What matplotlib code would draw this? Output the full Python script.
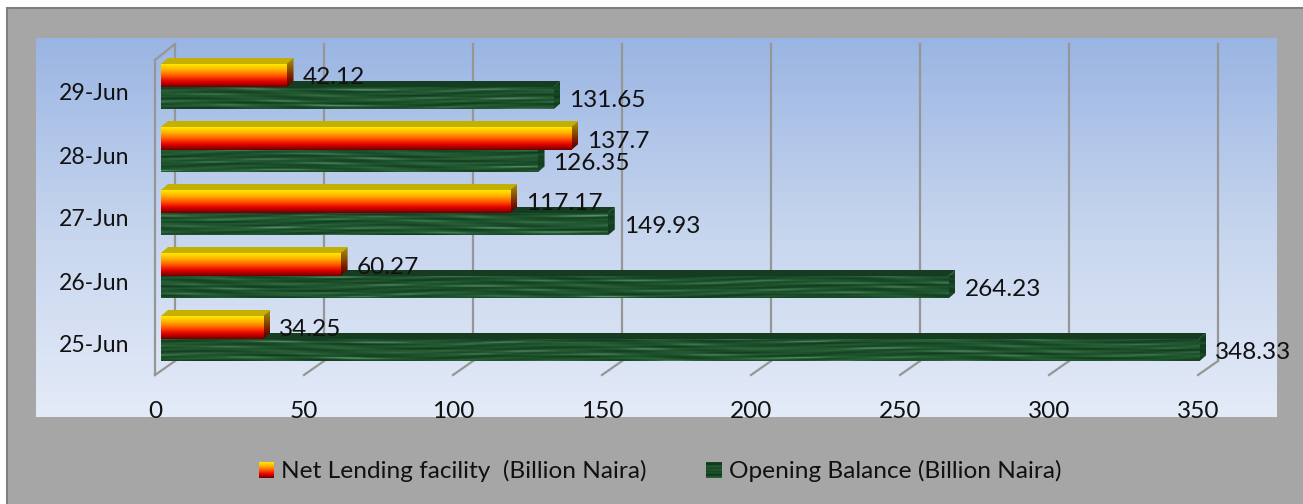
import matplotlib

matplotlib.use("Agg")
import matplotlib.pyplot as plt
import numpy as np
from matplotlib.colors import LinearSegmentedColormap
from matplotlib.patches import Polygon, Rectangle

W, H = 1303, 504

CATEGORIES = ["25-Jun", "26-Jun", "27-Jun", "28-Jun", "29-Jun"]
NET_LENDING = [34.25, 60.27, 117.17, 137.7, 42.12]
OPENING_BALANCE = [348.33, 264.23, 149.93, 126.35, 131.65]
NET_LABEL = "Net Lending facility  (Billion Naira)"
OPENING_LABEL = "Opening Balance (Billion Naira)"
VALUE_TICKS = [0, 50, 100, 150, 200, 250, 300, 350]

PX_PER_UNIT = 1043 / 350
PX_PER_ROW = 63.0
BAR_START = 6 / PX_PER_UNIT
BAR_DX = 7 / PX_PER_UNIT
BAR_DY = 6 / PX_PER_ROW
WALL_DX = 20 / PX_PER_UNIT
WALL_DY = 14 / PX_PER_ROW
LABEL_DROP = 2.5 / PX_PER_ROW
GRID = "#969696"

FIRE = LinearSegmentedColormap.from_list(
    "fire", ["#ffe800", "#ffb000", "#ff5a00", "#e80000", "#6e0000"]
)
FIRE_SIDE = LinearSegmentedColormap.from_list(
    "fire_side", ["#a89200", "#8e5c00", "#7a1a00", "#4e0000"]
)
MOSS = LinearSegmentedColormap.from_list(
    "moss", ["#103a1d", "#1c4f2b", "#2a6238", "#5f9575"]
)


def rect_px(left, top, right, bottom):
    return [left / W, 1 - bottom / H, (right - left) / W, (bottom - top) / H]


def moss_texture(rows, cols, seed):
    # streaky marble look, only decoration
    yy, xx = np.mgrid[0:rows, 0:cols]
    u = xx / 45.0
    v = yy * 1.0
    tex = (
        np.sin(v * 0.9 + seed + 2.4 * np.sin(u * 0.8 + seed))
        * np.sin(u * 1.3 + v * 0.25 + seed)
        + 0.6 * np.sin(v * 1.7 + 2.0 * seed + 2.8 * np.sin(u * 0.37 + 1.5))
        * np.sin(u * 0.6 - v * 0.2)
    )
    tex = (tex - tex.min()) / (tex.max() - tex.min())
    return tex ** 1.3


def fill_patch(ax, patch, image, extent, cmap, zorder):
    ax.add_patch(patch)
    patch.set_zorder(zorder)
    img = ax.imshow(image, extent=extent, cmap=cmap, aspect="auto", vmin=0, vmax=1,
                    zorder=zorder, interpolation="bilinear")
    img.set_clip_box(ax.figure.bbox)
    img.set_clip_path(patch)


def draw_bar(ax, x_end, y_low, height, front, front_cmap, top_color, side_cmap, zorder, side_img):
    x0, x1 = BAR_START, BAR_START + x_end
    y0, y1 = y_low, y_low + height
    ax.add_patch(Polygon(
        [(x0, y1), (x0 + BAR_DX, y1 + BAR_DY), (x1 + BAR_DX, y1 + BAR_DY), (x1, y1)],
        closed=True, facecolor=top_color, edgecolor="none", zorder=zorder, clip_on=False,
    ))
    side = Polygon(
        [(x1, y0), (x1 + BAR_DX, y0 + BAR_DY), (x1 + BAR_DX, y1 + BAR_DY), (x1, y1)],
        closed=True, facecolor="none", edgecolor="none", clip_on=False,
    )
    fill_patch(ax, side, side_img, [x1, x1 + BAR_DX, y0, y1 + BAR_DY], side_cmap, zorder)
    bars = ax.barh([y_low + height / 2], [x_end], height=height, left=x0,
                   color="none", zorder=zorder + 0.1, clip_on=False)
    rect = bars[0]
    fill_patch(ax, rect, front, [x0, x1, y0, y1], front_cmap, zorder + 0.1)


fig = plt.figure(figsize=(W / 100, H / 100), dpi=100, facecolor="white")
plt.rcParams["font.family"] = ["Lato", "DejaVu Sans"]
FS = 17.6

fig.add_artist(Rectangle((7 / W, -0.02), 1.02 - 7 / W, 1.02 - 8 / H, transform=fig.transFigure,
                         facecolor="#a6a6a6", edgecolor="#7f7f7f", linewidth=1.5, zorder=-5))

bg = fig.add_axes(rect_px(36, 38, 1277, 417))
bg.imshow(np.linspace(0, 1, 256).reshape(-1, 1), aspect="auto",
          cmap=LinearSegmentedColormap.from_list("sky", ["#9ab5e3", "#c6d5ee", "#e4ebf8"]))
bg.axis("off")

ax = fig.add_axes(rect_px(155, 44, 1198, 375))
ax.patch.set_alpha(0)
for spine in ax.spines.values():
    spine.set_visible(False)

ylim = (-31 / PX_PER_ROW, 300 / PX_PER_ROW)
y_pos = np.arange(len(CATEGORIES))

# walls and floor
for tick in VALUE_TICKS:
    ax.plot([tick + WALL_DX] * 2, [ylim[0] + WALL_DY, ylim[1]], color=GRID, lw=1.6, zorder=1, clip_on=False)
    ax.plot([tick, tick + WALL_DX], [ylim[0], ylim[0] + WALL_DY], color=GRID, lw=1.6, zorder=1, clip_on=False)
ax.plot([0, 0], [ylim[0], ylim[1] - 16 / PX_PER_ROW], color=GRID, lw=1.6, zorder=1, clip_on=False)
ax.plot([0, WALL_DX], [ylim[1] - 16 / PX_PER_ROW, ylim[1]], color=GRID, lw=1.6, zorder=1, clip_on=False)

red_low = 5 / PX_PER_ROW
red_h = 23 / PX_PER_ROW
green_low = -17.5 / PX_PER_ROW
green_h = 22.5 / PX_PER_ROW
fire_img = np.linspace(0, 1, 64).reshape(-1, 1)
side_fire = np.linspace(0, 1, 64).reshape(-1, 1)

for i, (net, opening) in enumerate(zip(NET_LENDING, OPENING_BALANCE)):
    z = 10 + (len(CATEGORIES) - i) * 2
    tex = moss_texture(24, int(opening * PX_PER_UNIT), i * 1.7 + 0.5)
    side_tex = moss_texture(24, 8, i + 3.0) * 0.35
    draw_bar(ax, opening, i + green_low, green_h, tex, MOSS, "#153c20", MOSS, z, side_tex)
    draw_bar(ax, net, i + red_low, red_h, fire_img, FIRE, "#c4b000", FIRE_SIDE, z + 1, side_fire)
    ax.text(BAR_START + net + 16 / PX_PER_UNIT, i + red_low + red_h / 2 - LABEL_DROP, f"{net:g}",
            va="center", ha="left", fontsize=FS, color="#111111", zorder=50, clip_on=False)
    ax.text(BAR_START + opening + 16 / PX_PER_UNIT, i + green_low + green_h / 2 - LABEL_DROP, f"{opening:g}",
            va="center", ha="left", fontsize=FS, color="#111111", zorder=50, clip_on=False)

ax.set_xlim(0, 350)
ax.set_ylim(*ylim)
ax.set_xticks(VALUE_TICKS)
ax.set_yticks(y_pos)
ax.set_yticklabels(CATEGORIES)
ax.tick_params(axis="x", length=0, pad=18.5, labelsize=FS, labelcolor="#111111")
ax.tick_params(axis="y", length=0, pad=18.5, labelsize=16.6, labelcolor="#111111")

# legend swatches and labels
sw1 = fig.add_axes(rect_px(259, 462, 274, 478))
sw1.imshow(fire_img, aspect="auto", cmap=FIRE)
sw1.axis("off")
sw2 = fig.add_axes(rect_px(706, 462, 722, 478))
sw2.imshow(moss_texture(16, 16, 1.2) * 0.6, aspect="auto", cmap=MOSS, vmin=0, vmax=1)
sw2.axis("off")
fig.text(281 / W, 1 - 471 / H, NET_LABEL, va="center", ha="left", fontsize=FS, color="#111111")
fig.text(729 / W, 1 - 471 / H, OPENING_LABEL, va="center", ha="left", fontsize=FS, color="#111111")

fig.savefig("out.png", dpi=100, facecolor="white")
plt.close(fig)
